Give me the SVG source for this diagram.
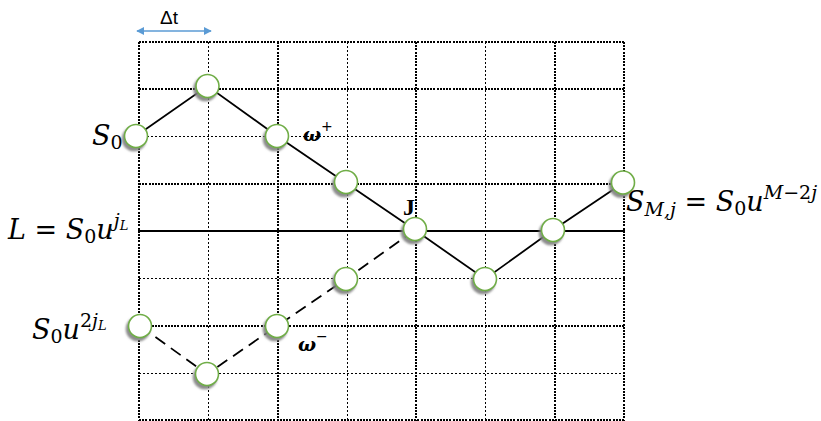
<svg xmlns="http://www.w3.org/2000/svg" width="821" height="421" viewBox="0 0 821 421">
  <style>
    .bg { fill: #ffffff; }
    .gthick { stroke: #000; stroke-width: 2; stroke-dasharray: 2 1.2; fill: none; shape-rendering: crispEdges; }
    .gthin { stroke: #000; stroke-width: 1; stroke-dasharray: 2 2; fill: none; shape-rendering: crispEdges; }
    .level { stroke: #000; stroke-width: 2; fill: none; }
    .path { stroke: #000; stroke-width: 1.8; fill: none; }
    .dash { stroke: #000; stroke-width: 1.8; stroke-dasharray: 12 7; fill: none; }
    .node circle { fill: #ffffff; stroke: #70AD47; stroke-width: 1.6; filter: url(#shadow); }
    .mi { font-family: "DejaVu Serif", "Liberation Serif", serif; font-style: italic; font-size: 27px; fill: #000; }
    .mn { font-family: "DejaVu Serif", "Liberation Serif", serif; font-style: normal; font-size: 27px; fill: #000; }
    .sub { font-size: 19px; }
    .sup { font-size: 19px; }
    .ss { font-size: 13px; }
    .w { font-family: "DejaVu Serif", "Liberation Serif", serif; font-style: italic; font-weight: bold; font-size: 19px; fill: #000; }
    .wsup { font-family: "DejaVu Sans", sans-serif; font-size: 14px; fill: #000; }
    .j { font-family: "Liberation Serif", serif; font-weight: bold; font-size: 24px; fill: #000; }
    .dt { font-family: "Liberation Sans", Arial, sans-serif; font-size: 19px; fill: #000; }
    .arrow { stroke: #5B9BD5; stroke-width: 1.6; fill: none; }
  </style>
  <defs>
    <filter id="shadow" x="-50%" y="-50%" width="200%" height="200%">
      <feDropShadow dx="-2" dy="3" stdDeviation="1" flood-color="#7f7f7f" flood-opacity="0.9"/>
    </filter>
    <marker id="ah" viewBox="0 0 10 10" refX="9" refY="5" markerWidth="5" markerHeight="5" orient="auto-start-reverse">
      <path d="M0,0 L10,5 L0,10 z" fill="#5B9BD5"/>
    </marker>
  </defs>

  <rect class="bg" x="0" y="0" width="821" height="421"/>

  <!-- time step marker -->
  <g id="dt">
    <line class="arrow" x1="137" y1="31" x2="211" y2="31" marker-start="url(#ah)" marker-end="url(#ah)"/>
    <text class="dt" x="160" y="24">Δt</text>
  </g>

  <!-- lattice grid -->
  <g id="grid">
    <line class="gthick" x1="139" y1="42" x2="625" y2="42"/>
    <line class="gthick" x1="139" y1="89" x2="625" y2="89"/>
    <line class="gthin" x1="139" y1="136.5" x2="625" y2="136.5"/>
    <line class="gthick" x1="139" y1="184" x2="625" y2="184"/>
    <line class="gthin" x1="139" y1="278.5" x2="625" y2="278.5"/>
    <line class="gthick" x1="139" y1="326" x2="625" y2="326"/>
    <line class="gthin" x1="139" y1="373.5" x2="625" y2="373.5"/>
    <line class="gthick" x1="139" y1="420" x2="625" y2="420"/>
    <line class="gthick" x1="139" y1="42" x2="139" y2="421"/>
    <line class="gthin" x1="208.5" y1="42" x2="208.5" y2="421"/>
    <line class="gthick" x1="278" y1="42" x2="278" y2="421"/>
    <line class="gthin" x1="347.5" y1="42" x2="347.5" y2="421"/>
    <line class="gthick" x1="416" y1="42" x2="416" y2="421"/>
    <line class="gthin" x1="485.5" y1="42" x2="485.5" y2="421"/>
    <line class="gthick" x1="555" y1="42" x2="555" y2="421"/>
    <line class="gthick" x1="624" y1="42" x2="624" y2="421"/>
  </g>

  <!-- barrier level -->
  <line id="barrier" class="level" x1="138" y1="231" x2="625" y2="231"/>

  <!-- connectors -->
  <g id="connectors">
    <polyline class="path" points="136,136 207.5,86 277,136 346,183 415,230 485,279 553,230 623,183"/>
    <polyline class="dash" points="140,326 207,374 277,326 346,279 415,230"/>
  </g>

  <!-- lattice nodes -->
  <g id="n-s0" class="node"><circle cx="136" cy="136" r="11.5"/></g>
  <g id="n-up" class="node"><circle cx="207.5" cy="86" r="11.5"/></g>
  <g id="n-plus" class="node"><circle cx="277" cy="136" r="11.5"/></g>
  <g id="n-a" class="node"><circle cx="346" cy="182" r="11.5"/></g>
  <g id="n-j" class="node"><circle cx="415" cy="229" r="11.5"/></g>
  <g id="n-b" class="node"><circle cx="485" cy="279" r="11.5"/></g>
  <g id="n-c" class="node"><circle cx="553" cy="230" r="11.5"/></g>
  <g id="n-end" class="node"><circle cx="623" cy="182.5" r="11.5"/></g>
  <g id="n-r1" class="node"><circle cx="346" cy="279" r="11.5"/></g>
  <g id="n-minus" class="node"><circle cx="277" cy="326" r="11.5"/></g>
  <g id="n-refl" class="node"><circle cx="140" cy="326" r="11.5"/></g>
  <g id="n-low" class="node"><circle cx="207" cy="374" r="11.5"/></g>

  <!-- labels -->
  <g id="labels">
    <text class="mi" x="92" y="145">S<tspan class="mn sub" dy="4">0</tspan></text>
    <text class="w" x="303" y="141">ω</text><text class="wsup" x="321" y="131">+</text>
    <text class="w" x="298" y="351">ω</text><text class="wsup" x="316" y="341">−</text>
    <text class="j" x="403" y="215">J</text>
    <text class="mi" x="8" y="239">L <tspan class="mn">=</tspan> S<tspan class="mn sub" dy="4">0</tspan><tspan dy="-4">u</tspan><tspan class="sup" dy="-12">j</tspan><tspan class="ss" dy="3">L</tspan></text>
    <text class="mi" x="626" y="211">S<tspan class="sub" dy="5">M,j</tspan><tspan class="mn" dy="-5"> = </tspan>S<tspan class="mn sub" dy="4">0</tspan><tspan dy="-4">u</tspan><tspan class="sup" dy="-12">M<tspan font-style="normal">−2</tspan>j</tspan></text>
    <text class="mi" x="32" y="339">S<tspan class="mn sub" dy="4">0</tspan><tspan dy="-4">u</tspan><tspan class="sup mn" dy="-12">2</tspan><tspan class="sup">j</tspan><tspan class="ss" dy="3">L</tspan></text>
  </g>
</svg>
